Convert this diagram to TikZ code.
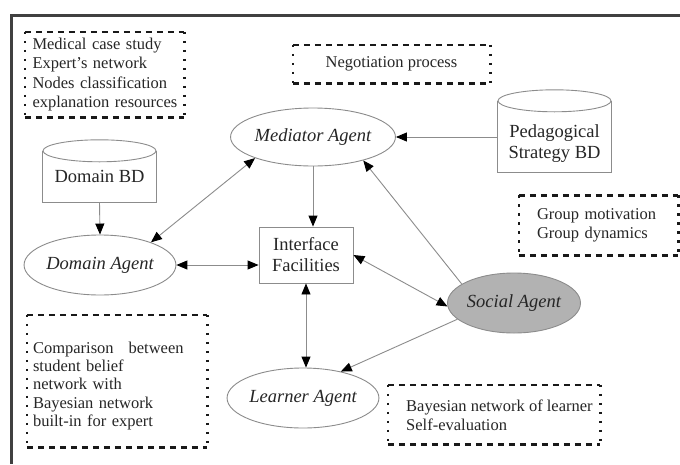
\documentclass[tikz,border=0pt]{standalone}
\usepackage{fontspec}
\setmainfont{Liberation Serif}
\usetikzlibrary{shapes.geometric,arrows.meta}
\begin{document}
\begin{tikzpicture}[x=1pt,y=-1pt,
  agent/.style={ellipse, draw=black!45, line width=0.9pt, minimum width=134pt, minimum height=60pt, inner sep=0pt, font=\fontsize{18.5}{20}\selectfont\itshape, text=black!85},
  ibox/.style={rectangle, draw=black!45, line width=0.9pt, inner sep=0pt, align=center, font=\fontsize{18.5}{21}\selectfont, text=black!85},
  cylbody/.style={rectangle, inner sep=0pt, align=center, font=\fontsize{18.5}{21}\selectfont, text=black!85},
  cyl/.style={draw=black!45, line width=0.9pt},
  note/.style={rectangle, inner ysep=0pt, align=left, font=\fontsize{16.5}{19.3}\selectfont, text=black!85},
  hd/.style={line width=2.6pt, dash pattern=on 6pt off 5pt, black!90},
  vd/.style={line width=2.6pt, dash pattern=on 2.5pt off 6.5pt, black!90},
  link/.style={draw=black!45, line width=0.9pt},
  tip/.style={-{Triangle[length=11pt,width=9pt,color=black]}},
  both/.style={{Triangle[length=11pt,width=9pt,color=black]}-{Triangle[length=11pt,width=9pt,color=black]}},
]
\useasboundingbox (0,0) rectangle (680,464);
\fill[white] (0,0) rectangle (680,464);
\draw[line width=3pt, black!75] (680,15) -- (11,15) -- (11,464);

% dotted notes
\node[note, text width=152pt, inner xsep=3.5pt, minimum height=85pt] (n1) at (104.5,74.5)
  {\hspace*{4pt}Medical case study\\\hspace*{4pt}Expert's network\\\hspace*{4pt}Nodes classification\\\hspace*{4pt}explanation resources};
\node[note, align=center, minimum width=197pt, minimum height=38pt] (n2) at (391.5,64) {Negotiation process};
\node[note, text width=123pt, inner xsep=18pt, minimum height=60pt] (n3) at (598.5,225.5)
  {Group motivation\\Group dynamics};
\node[note, minimum width=180pt, minimum height=132pt] (n4) at (117,381) {};
\node[note, text width=172pt, inner xsep=4pt, font=\fontsize{16.5}{18.2}\selectfont] (n4t) at (117,386)
  {\hspace*{2pt}Comparison\hspace{15pt}between\\\hspace*{2pt}student belief\\\hspace*{2pt}network with\\\hspace*{2pt}Bayesian network\\\hspace*{2pt}built-in for expert};
\node[note, minimum width=212pt, minimum height=59pt] (n5) at (494,414.5) {};
\node[note, inner xsep=0pt, anchor=west] (n5t) at (406,415.5)
  {Bayesian network of learner\\Self-evaluation};
\foreach \n in {n1,n2,n3,n4,n5}{
  \draw[hd] (\n.north west) -- (\n.north east);
  \draw[hd] (\n.south west) -- (\n.south east);
  \draw[vd] (\n.north west) -- (\n.south west);
  \draw[vd] (\n.north east) -- (\n.south east);
}

% databases
\node[cylbody, minimum width=113pt, minimum height=51pt] (dbd) at (99.5,176.5) {Domain BD};
\draw[cyl] (dbd.north west) -- (dbd.south west) -- (dbd.south east) -- (dbd.north east);
\draw[cyl] (dbd.north) ellipse [x radius=56.5pt, y radius=11pt];

\node[cylbody, minimum width=113pt, minimum height=71pt] (pbd) at (554.5,136.5) {};
\node[cylbody] (pbdt) at (554.5,144) {Pedagogical\\Strategy BD};
\draw[cyl] (pbd.north west) -- (pbd.south west) -- (pbd.south east) -- (pbd.north east);
\draw[cyl] (pbd.north) ellipse [x radius=56.5pt, y radius=11pt];

% agents
\node[agent, minimum width=146pt, minimum height=58pt] (ma) at (313,137) {Mediator Agent};
\node[agent, minimum width=132pt] (da) at (100,265) {Domain Agent};
\node[agent, fill=gray!60, minimum width=132pt] (sa) at (514,303) {Social Agent};
\node[agent] (la) at (303,398) {Learner Agent};
\node[ibox, minimum width=94pt, minimum height=56pt] (if) at (306,255) {Interface\\Facilities};

% connectors
\draw[link, tip] (dbd.south) -- (da.north);
\draw[link, both] (da.24) -- (ma.200);
\draw[link, tip] (ma.south) -- (ma.south |- if.north);
\draw[link, tip] (pbd.west |- ma.east) -- (ma.east);
\draw[link, both] (da.east) -- (if.west |- da.east);
\draw[link, both] (if.east) -- (sa.183);
\draw[link, tip] (sa.160) -- (ma.335);
\draw[link, both] (if.south) -- (if.south |- la.north);
\draw[link, tip] (sa.196) -- (la.35);
\end{tikzpicture}
\end{document}
